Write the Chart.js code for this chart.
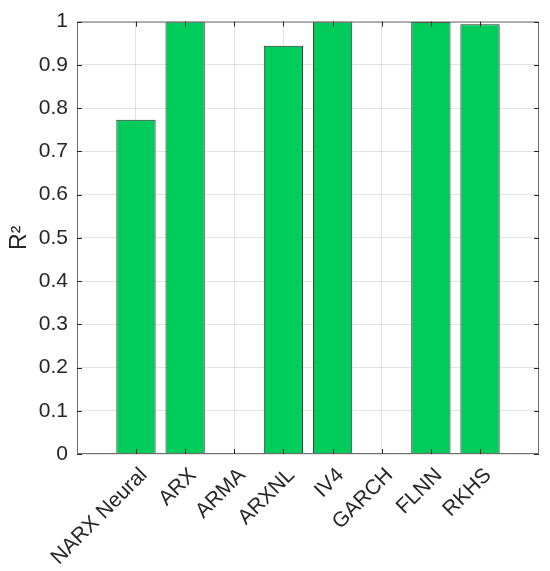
<!DOCTYPE html>
<html>
<head>
<meta charset="utf-8">
<script src="https://cdn.jsdelivr.net/npm/chart.js@4"></script>
<style>
  html, body { margin: 0; padding: 0; background: #fff; }
  #wrap { width: 550px; height: 571px; }
</style>
</head>
<body>
<div id="wrap"><canvas id="myChart" width="550" height="571"></canvas></div>
<script>
// data
const models = ['NARX Neural', 'ARX', 'ARMA', 'ARXNL', 'IV4', 'GARCH', 'FLNN', 'RKHS'];
const r2Values = [0.773, 1.0, null, 0.944, 1.0, null, 0.999, 0.994];
const yTicks = [0, 0.1, 0.2, 0.3, 0.4, 0.5, 0.6, 0.7, 0.8, 0.9, 1];

const axisColor = '#262626';
const boxColor = '#6e6e6e';
const gridColor = 'rgba(0,0,0,0.11)';
const font = { family: '"Liberation Sans", Arial, sans-serif', size: 21 };

// MATLAB style box with inward ticks
const boxPlugin = {
  id: 'box',
  afterDatasetsDraw(chart) {
    const { ctx, chartArea: a, scales } = chart;
    ctx.save();
    ctx.strokeStyle = boxColor;
    ctx.lineWidth = 1;
    ctx.beginPath();
    ctx.rect(a.left + 0.5, a.top + 0.5, a.right - a.left - 1, a.bottom - a.top - 1);
    ctx.stroke();
    ctx.strokeStyle = axisColor;
    ctx.beginPath();
    models.forEach((m, i) => {
      const x = Math.round(scales.x.getPixelForValue(i)) + 0.5;
      ctx.moveTo(x, a.bottom); ctx.lineTo(x, a.bottom - 5);
      ctx.moveTo(x, a.top); ctx.lineTo(x, a.top + 5);
    });
    yTicks.forEach(v => {
      const y = Math.round(scales.y.getPixelForValue(v)) + 0.5;
      ctx.moveTo(a.left, y); ctx.lineTo(a.left + 5, y);
      ctx.moveTo(a.right, y); ctx.lineTo(a.right - 5, y);
    });
    ctx.stroke();
    ctx.restore();
  }
};

const ctx = document.getElementById('myChart').getContext('2d');
const chart = new Chart(ctx, {
  type: 'bar',
  data: {
    datasets: [{
      label: 'R²',
      data: r2Values.map((v, i) => ({ x: i, y: v })),
      backgroundColor: 'rgb(0, 204, 92)',
      borderColor: '#2b2b2b',
      borderWidth: 1,
      categoryPercentage: 0.8,
      barPercentage: 1.0
    }]
  },
  options: {
    responsive: false,
    animation: false,
    layout: { padding: { top: 19, right: 11, left: 6, bottom: 0 } },
    plugins: { legend: { display: false }, tooltip: { enabled: false } },
    scales: {
      x: {
        type: 'linear',
        offset: false,
        min: -1.2,
        max: 8.2,
        afterBuildTicks(scale) {
          scale.ticks = models.map((m, i) => ({ value: i }));
        },
        afterFit(scale) { scale.height = 117; },
        ticks: {
          autoSkip: false,
          maxRotation: 45,
          minRotation: 45,
          padding: 9,
          labelOffset: 8,
          color: axisColor,
          font: font,
          callback: (v) => models[v]
        },
        grid: { color: gridColor, drawTicks: false, offset: false },
        border: { display: false }
      },
      y: {
        min: 0,
        max: 1,
        afterBuildTicks(scale) {
          scale.ticks = yTicks.map(v => ({ value: v }));
        },
        afterFit(scale) { scale.width = 71; },
        ticks: {
          padding: 9,
          color: axisColor,
          font: font,
          callback: (v) => String(Math.round(v * 10) / 10)
        },
        title: {
          display: true,
          text: 'R²',
          color: axisColor,
          font: { family: font.family, size: 23 },
          padding: { top: 0, bottom: 2 }
        },
        grid: { color: gridColor, drawTicks: false },
        border: { display: false }
      }
    }
  },
  plugins: [boxPlugin]
});
</script>
</body>
</html>
